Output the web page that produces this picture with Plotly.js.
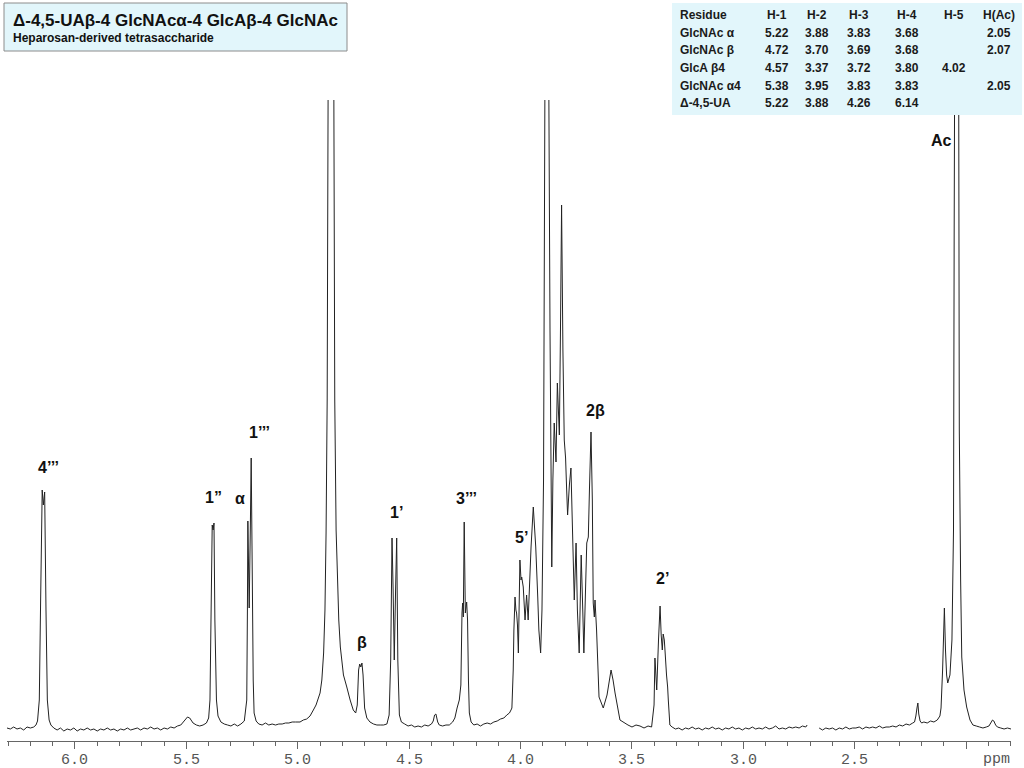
<!DOCTYPE html>
<html><head><meta charset="utf-8">
<script src="https://cdn.plot.ly/plotly-3.0.1.min.js"></script>
<style>html,body{margin:0;padding:0;background:#fff}#chart{width:1024px;height:768px}</style>
</head><body><div id="chart"></div>
<script>
// ---- spectrum data: [ppm, intensity] ----
const segLeft = [[6.305,2],[6.290,1],[6.275,3],[6.260,1],[6.245,2],[6.230,0],[6.215,3],[6.200,2],[6.185,3],[6.175,5],
[6.168,9],[6.160,30],[6.154,130],[6.147,240],[6.142,225],[6.136,238],[6.130,120],[6.124,30],[6.116,10],[6.108,5],
[6.095,2],[6.080,0],[6.065,2],[6.050,-1],[6.035,1],[6.020,0],[6.005,2],[5.990,-1],[5.975,1],[5.960,0],[5.945,2],[5.930,0],[5.915,1],[5.900,-1],[5.885,1],[5.870,0],[5.855,2],[5.840,0],[5.825,1],[5.810,-1],[5.795,1],[5.780,0],[5.765,2],[5.750,0],[5.735,1],[5.720,2],[5.705,0],[5.690,2],[5.675,1],[5.660,3],[5.645,1],[5.630,2],[5.615,0],[5.600,2],[5.585,1],[5.570,3],[5.555,2],[5.540,4]];
const segAnomeric = [[5.525,5],[5.510,9],[5.495,13],[5.485,12],[5.470,7],[5.455,5],[5.440,4],[5.425,5],[5.410,7],[5.400,12],
[5.394,30],[5.390,100],[5.384,205],[5.380,200],[5.376,207],[5.372,110],[5.365,30],[5.358,14],[5.345,8],[5.330,6],[5.315,5],[5.300,4],[5.285,6],[5.270,4],[5.255,6],[5.240,9],
[5.229,30],[5.226,120],[5.224,209],[5.220,150],[5.218,122],[5.213,200],[5.209,272],[5.204,150],[5.200,50],[5.196,17],[5.187,9],[5.175,6],[5.160,5],[5.145,7],[5.130,5],[5.115,6],[5.100,5],[5.085,6],[5.070,6],[5.055,7],[5.040,7],[5.025,8],[5.010,8],[4.990,8],[4.975,10],[4.960,11],[4.945,14],[4.930,20],[4.918,25],[4.900,37],[4.892,50],[4.884,77],[4.878,120],[4.873,197],[4.868,330],[4.864,630],[4.851,1500],[4.838,630],[4.834,330],[4.828,200],[4.823,163],[4.816,110],[4.809,83],[4.795,55],[4.780,43],[4.765,30],[4.751,20],[4.740,17]];
const segMid = [[4.733,25],[4.727,60],[4.722,66],[4.717,63],[4.712,67],[4.707,55],[4.700,22],[4.690,12],[4.676,8],[4.660,6],[4.645,5],[4.630,5],[4.615,5],[4.600,6],
[4.590,15],[4.583,70],[4.577,192],[4.572,140],[4.567,70],[4.561,140],[4.556,192],[4.551,70],[4.544,15],[4.535,8],[4.520,6],[4.505,4],[4.490,5],[4.475,3],[4.460,4],[4.445,3],[4.430,5],[4.415,4],[4.400,6],
[4.392,9],[4.386,15],[4.380,16],[4.372,8],[4.365,5],[4.350,4],[4.335,5],[4.320,5],[4.305,8],[4.295,12],[4.285,22],[4.275,30],[4.268,45],
[4.263,117],[4.260,127],[4.257,113],[4.253,208],[4.248,117],[4.242,128],[4.238,110],[4.234,50],[4.230,17],[4.222,8],[4.210,5],[4.195,6],[4.180,4],[4.165,6],[4.150,7],[4.135,6],[4.120,8],[4.105,9],[4.090,11],[4.075,12],[4.062,15],[4.050,17],[4.043,20]];
const segCluster = [[4.039,22],[4.033,60],[4.030,100],[4.025,133],[4.021,120],[4.018,117],[4.014,105],[4.010,77],[4.003,170],[3.998,150],[3.995,153],[3.988,143],[3.980,110],[3.973,135],[3.966,110],[3.953,183],[3.943,223],[3.932,183],[3.923,133],[3.918,100],[3.910,77],[3.904,120],[3.897,250],[3.891,630],[3.882,1000],[3.873,630],[3.868,400],[3.860,163],[3.855,250],[3.849,307],[3.841,268],[3.835,347],[3.826,295],[3.821,400],[3.816,525],[3.810,380],[3.804,290],[3.798,272],[3.794,245],[3.789,215],[3.781,245],[3.774,262],[3.767,200],[3.759,130],[3.751,187],[3.745,120],[3.737,77],[3.728,175],[3.721,120],[3.716,77],[3.703,187],[3.696,193],[3.691,240],[3.684,298],[3.678,230],[3.674,127],[3.669,113],[3.666,130],[3.659,100],[3.648,33],[3.629,22],[3.612,35],[3.594,60],[3.585,50],[3.576,37],[3.554,10],[3.518,5],[3.500,3],[3.482,5],[3.464,4],[3.446,2],[3.428,4],[3.412,3],
[3.401,25],[3.397,72],[3.389,40],[3.381,90],[3.374,124],[3.369,95],[3.364,80],[3.360,96],[3.355,90],[3.352,80],[3.345,55],[3.340,43],[3.337,30],[3.330,5]];
const segUpfield = [[3.320,3],[3.305,1],[3.290,2],[3.275,0],[3.260,2],[3.245,1],[3.230,3],[3.215,1],[3.200,2],[3.185,0],[3.170,2],[3.155,1],[3.140,3],[3.125,1],[3.110,2],[3.095,0],[3.080,2],[3.065,1],[3.050,3],[3.035,1],[3.020,2],[3.005,0],[2.990,2],[2.975,1],[2.960,3],[2.945,1],[2.930,2],[2.915,1],[2.900,3],[2.885,1],[2.870,2],[2.855,4],[2.840,1],[2.825,2],[2.810,1],[2.795,3],[2.780,2],[2.765,3],[2.750,2],[2.735,4],[2.720,3],[2.714,5]];
const segAcetyl = [[2.660,2],[2.645,0],[2.630,2],[2.615,1],[2.600,2],[2.585,0],[2.570,2],[2.555,1],[2.540,3],[2.525,1],[2.510,2],[2.495,2],[2.480,3],[2.465,1],[2.450,3],[2.435,2],[2.420,3],[2.405,2],[2.390,4],[2.375,2],[2.360,3],[2.345,3],[2.330,4],[2.315,3],[2.300,5],[2.285,4],[2.270,6],[2.255,5],[2.240,7],[2.232,8],
[2.226,14],[2.221,22],[2.217,27],[2.213,16],[2.207,9],[2.200,7],[2.190,8],[2.175,7],[2.160,9],[2.145,8],[2.130,10],[2.118,14],[2.113,22],[2.106,60],[2.098,122],[2.093,80],[2.088,55],[2.083,47],[2.073,55],[2.064,90],[2.057,200],[2.054,500],[2.050,800],[2.044,1400],[2.035,800],[2.031,300],[2.025,150],[2.020,73],[2.010,40],[1.998,23],[1.983,10],[1.970,5],[1.955,4],[1.940,3],[1.925,2],[1.910,3],[1.898,4],[1.890,7],[1.882,10],[1.876,9],[1.868,5],[1.860,3],[1.845,2],[1.830,1],[1.815,2],[1.799,1]];

// ---- axis ticks ----
const tickValues = [6.0, 5.5, 5.0, 4.5, 4.0, 3.5, 3.0, 2.5, 2.0];
const tickLabels = ['6.0','5.5','5.0','4.5','4.0','3.5','3.0','2.5',''];
const axisUnit = 'ppm';

// ---- peak assignments ----
const peakLabels = ['4’’’','1”','α','1’’’','β','1’','3’’’','5’','2β','2’','Ac'];
const peakLabelPpm = [6.121, 5.376, 5.259, 5.170, 4.712, 4.555, 4.241, 3.994, 3.662, 3.361, 2.109];
const peakLabelHeight = [263, 233, 232, 298, 88, 218, 232, 193, 320, 152, 590];

// ---- table of shifts ----
const tableHeader = ['Residue','H-1','H-2','H-3','H-4','H-5','H(Ac)'];
const residues = ['GlcNAc α','GlcNAc β','GlcA β4','GlcNAc α4','Δ-4,5-UA'];
const shiftH1 = ['5.22','4.72','4.57','5.38','5.22'];
const shiftH2 = ['3.88','3.70','3.37','3.95','3.88'];
const shiftH3 = ['3.83','3.69','3.72','3.83','4.26'];
const shiftH4 = ['3.68','3.68','3.80','3.83','6.14'];
const shiftH5 = ['','','4.02','',''];
const shiftHAc = ['2.05','2.07','','2.05',''];

const titleText = 'Δ-4,5-UAβ-4 GlcNAcα-4 GlcAβ-4 GlcNAc';
const subtitleText = 'Heparosan-derived tetrasaccharide';

// ---- build trace ----
const ppm = [], intensity = [];
function addSeg(seg){ seg.forEach(p => { ppm.push(p[0]); intensity.push(p[1]); }); }
[segLeft, segAnomeric, segMid, segCluster, segUpfield].forEach(addSeg);
ppm.push(2.69); intensity.push(null);
addSeg(segAcetyl);

// ---- layout geometry (pixels -> paper) ----
const W = 1024, H = 768, L = 7, R = 13, T = 100, B = 27;
const pw = W - L - R, ph = H - T - B;
const px = v => (v - L) / pw;
const py = v => (H - B - v) / ph;

const annotations = [];
const sans = 'Liberation Sans, Arial, sans-serif';
const mono = 'Liberation Mono, Courier New, monospace';
peakLabels.forEach((t, i) => annotations.push({
  x: peakLabelPpm[i], y: peakLabelHeight[i], xref: 'x', yref: 'y', text: '<b>' + t + '</b>',
  showarrow: false, xanchor: 'center', yanchor: 'middle', font: {family: sans, size: 16, color: '#111'}
}));
tickValues.forEach((v, i) => { if (tickLabels[i]) annotations.push({x: v, y: py(760), xref: 'x', yref: 'paper',
  text: tickLabels[i], showarrow: false, xanchor: 'center', yanchor: 'middle', font: {family: mono, size: 15, color: '#555'}}); });
annotations.push({x: 1.866, y: py(759), xref: 'x', yref: 'paper', text: axisUnit, showarrow: false,
  xanchor: 'center', yanchor: 'middle', font: {family: mono, size: 15, color: '#555'}});
annotations.push({x: px(11), y: py(20), xref: 'paper', yref: 'paper', text: '<b>' + titleText + '</b>', showarrow: false,
  xanchor: 'left', yanchor: 'middle', font: {family: sans, size: 17, color: '#111'}});
annotations.push({x: px(11), y: py(38.5), xref: 'paper', yref: 'paper', text: '<b>' + subtitleText + '</b>', showarrow: false,
  xanchor: 'left', yanchor: 'middle', font: {family: sans, size: 12, color: '#111'}});

const colX = [678, 777, 817, 859, 907, 954, 999];
const rowY = [15, 33, 50.5, 68, 85.5, 103];
const cols = [residues, shiftH1, shiftH2, shiftH3, shiftH4, shiftH5, shiftHAc];
function cell(text, c, r){
  if (!text) return;
  annotations.push({x: px(colX[c]), y: py(rowY[r]), xref: 'paper', yref: 'paper', text: '<b>' + text + '</b>',
    showarrow: false, xanchor: c === 0 ? 'left' : 'center', yanchor: 'middle', font: {family: sans, size: 12, color: '#1a1a1a'}});
}
tableHeader.forEach((t, c) => cell(t, c, 0));
cols.forEach((col, c) => col.forEach((t, r) => cell(t, c, r + 1)));

const shapes = [
  {type: 'rect', xref: 'paper', yref: 'paper', x0: px(4), x1: px(347), y0: py(51), y1: py(3),
   fillcolor: '#e2f6fb', line: {color: '#8c8c8c', width: 1}, layer: 'above'},
  {type: 'rect', xref: 'paper', yref: 'paper', x0: px(672), x1: px(1022), y0: py(115), y1: py(3),
   fillcolor: '#e2f6fb', line: {width: 0}, layer: 'above'}
];

const layout = {
  width: W, height: H, margin: {l: L, r: R, t: T, b: B, pad: 0},
  paper_bgcolor: '#fff', plot_bgcolor: '#fff', showlegend: false,
  xaxis: {range: [6.305, 1.799], showline: true, linecolor: '#666', linewidth: 1, mirror: false,
    ticks: 'outside', ticklen: 7, tickwidth: 1, tickcolor: '#666',
    tickmode: 'array', tickvals: tickValues, ticktext: tickLabels, showticklabels: false,
    showgrid: false, zeroline: false, fixedrange: true,
    minor: {tickmode: 'linear', tick0: 0, dtick: 0.1, ticklen: 4, tickwidth: 1, tickcolor: '#666', showgrid: false}},
  yaxis: {range: [-11, 630], visible: false, fixedrange: true},
  annotations: annotations, shapes: shapes
};

Plotly.newPlot('chart', [{x: ppm, y: intensity, type: 'scatter', mode: 'lines', connectgaps: false,
  line: {color: '#222', width: 1, simplify: false}, hoverinfo: 'skip'}], layout, {displayModeBar: false, staticPlot: true});
</script>
</body></html>
